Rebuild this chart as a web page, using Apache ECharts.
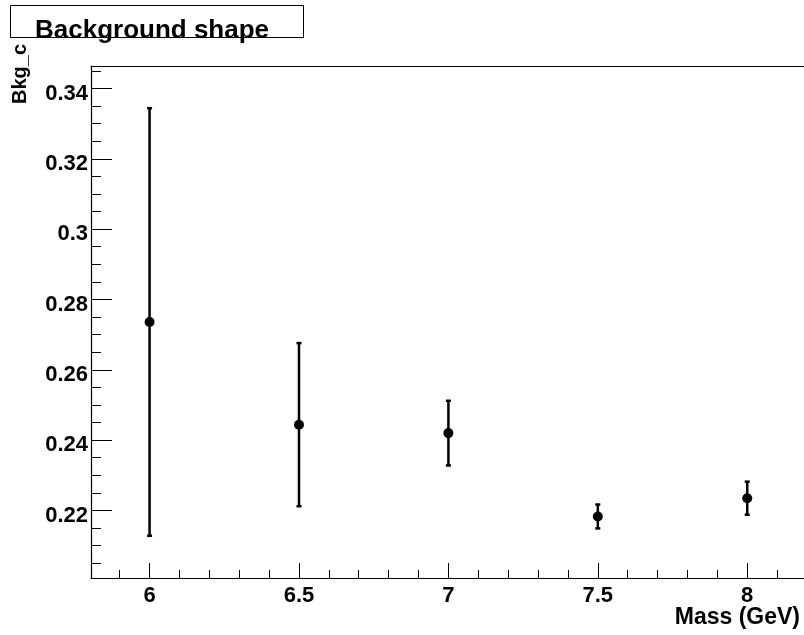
<!DOCTYPE html>
<html>
<head>
<meta charset="utf-8">
<script src="https://cdn.jsdelivr.net/npm/echarts@6/dist/echarts.min.js"></script>
<style>
html,body{margin:0;padding:0;background:#fff;}
#chart{width:804px;height:635px;}
</style>
</head>
<body>
<div id="chart"></div>
<script>
// ---- data ----
const mass = [6, 6.5, 7, 7.5, 8];
const bkgC = [0.2736, 0.2444, 0.2420, 0.2183, 0.2235];
const bkgErr = [0.0608, 0.0232, 0.0092, 0.0034, 0.0047];

// ---- axis ticks ----
const xMajorTicks = [6, 6.5, 7, 7.5, 8];
const xMinorTicks = [5.9, 6.1, 6.2, 6.3, 6.4, 6.6, 6.7, 6.8, 6.9, 7.1, 7.2, 7.3, 7.4, 7.6, 7.7, 7.8, 7.9, 8.1];
const yMajorTicks = [0.22, 0.24, 0.26, 0.28, 0.3, 0.32, 0.34];
const yMinorTicks = [0.205, 0.21, 0.215, 0.225, 0.23, 0.235, 0.245, 0.25, 0.255, 0.265, 0.27, 0.275, 0.285, 0.29, 0.295, 0.305, 0.31, 0.315, 0.325, 0.33, 0.335, 0.345];

const titleText = 'Background shape';
const xName = 'Mass (GeV)';
const yName = 'Bkg_c';

const X_MIN = 5.804, X_MAX = 8.19;
const Y_MIN = 0.2008, Y_MAX = 0.3464;

const FONT = '"Liberation Sans", Arial, Helvetica, sans-serif';

const errData = mass.map((m, i) => [m, bkgC[i], bkgC[i] - bkgErr[i], bkgC[i] + bkgErr[i]]);
const ptData = mass.map((m, i) => [m, bkgC[i]]);

const chart = echarts.init(document.getElementById('chart'), null, {renderer: 'canvas'});

const baseX = {type: 'value', min: X_MIN, max: X_MAX, gridIndex: 0, splitLine: {show: false}};
const baseY = {type: 'value', min: Y_MIN, max: Y_MAX, gridIndex: 0, splitLine: {show: false}};

chart.setOption({
  animation: false,
  backgroundColor: '#fff',
  grid: {left: 91, right: 0, top: 66, bottom: 57, containLabel: false},
  xAxis: [
    Object.assign({}, baseX, {
      position: 'bottom',
      axisLine: {show: true, onZero: false, lineStyle: {color: '#000', width: 1.2}},
      axisTick: {show: true, inside: true, length: 8, customValues: xMinorTicks, lineStyle: {color: '#000', width: 1}},
      axisLabel: {show: true, customValues: xMajorTicks, color: '#000', fontFamily: FONT, fontWeight: 'bold', fontSize: 22, margin: 7}
    }),
    Object.assign({}, baseX, {
      position: 'bottom',
      axisLine: {show: false, onZero: false},
      axisTick: {show: true, inside: true, length: 15, customValues: xMajorTicks, lineStyle: {color: '#000', width: 1}},
      axisLabel: {show: false}
    }),
    Object.assign({}, baseX, {
      position: 'top',
      axisLine: {show: true, onZero: false, lineStyle: {color: '#000', width: 1.2}},
      axisTick: {show: false},
      axisLabel: {show: false}
    })
  ],
  yAxis: [
    Object.assign({}, baseY, {
      position: 'left',
      axisLine: {show: true, onZero: false, lineStyle: {color: '#000', width: 1.2}},
      axisTick: {show: true, inside: true, length: 10, customValues: yMinorTicks, lineStyle: {color: '#000', width: 1}},
      axisLabel: {
        show: true, customValues: yMajorTicks, color: '#000', fontFamily: FONT, fontWeight: 'bold', fontSize: 22, margin: 3,
        lineHeight: 10, verticalAlign: 'middle',
        formatter: function (v) { return '\n' + v; }
      }
    }),
    Object.assign({}, baseY, {
      position: 'left',
      axisLine: {show: false, onZero: false},
      axisTick: {show: true, inside: true, length: 21, customValues: yMajorTicks, lineStyle: {color: '#000', width: 1}},
      axisLabel: {show: false}
    })
  ],
  series: [
    {
      type: 'custom',
      xAxisIndex: 0, yAxisIndex: 0,
      data: errData,
      renderItem: function (params, api) {
        const x = api.value(0);
        const top = api.coord([x, api.value(3)]);
        const bot = api.coord([x, api.value(2)]);
        const st = {stroke: '#000', lineWidth: 2.5};
        const cw = 2.5;
        return {
          type: 'group',
          children: [
            {type: 'line', shape: {x1: top[0], y1: top[1], x2: bot[0], y2: bot[1]}, style: st},
            {type: 'line', shape: {x1: top[0] - cw, y1: top[1], x2: top[0] + cw, y2: top[1]}, style: st},
            {type: 'line', shape: {x1: bot[0] - cw, y1: bot[1], x2: bot[0] + cw, y2: bot[1]}, style: st}
          ]
        };
      },
      z: 3
    },
    {
      type: 'scatter',
      xAxisIndex: 0, yAxisIndex: 0,
      data: ptData,
      symbol: 'circle',
      symbolSize: 10,
      itemStyle: {color: '#000', opacity: 1},
      z: 4
    }
  ],
  graphic: [
    {
      type: 'rect',
      shape: {x: 10.5, y: 5.5, width: 293, height: 32},
      style: {fill: '#fff', stroke: '#000', lineWidth: 1},
      z: 10
    },
    {
      type: 'text',
      x: 35, y: 31,
      style: {text: titleText, fill: '#000', font: 'bold 26px ' + FONT, align: 'left', verticalAlign: 'middle'},
      z: 11
    },
    {
      type: 'text',
      x: 800, y: 618,
      style: {text: xName, fill: '#000', font: 'bold 23px ' + FONT, align: 'right', verticalAlign: 'middle'},
      z: 11
    },
    {
      type: 'text',
      x: 30, y: 44,
      rotation: Math.PI / 2,
      style: {text: yName, fill: '#000', font: 'bold 20px ' + FONT, align: 'right', verticalAlign: 'bottom'},
      z: 11
    }
  ]
});
</script>
</body>
</html>
